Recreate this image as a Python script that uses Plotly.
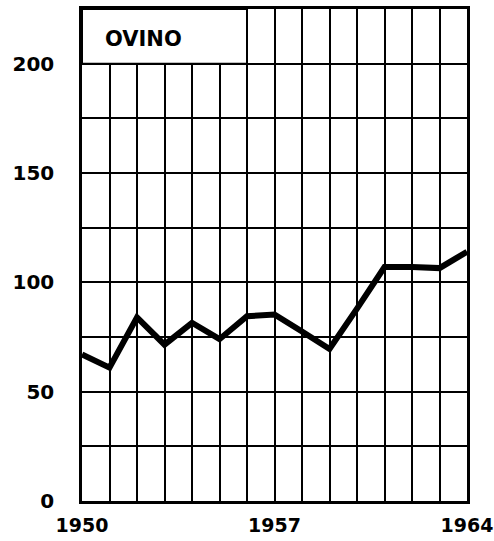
import plotly.graph_objects as go

years = list(range(1950, 1965))
ovino = [67, 61, 84, 71.5, 81.5, 74, 84.5, 85.3, 77.5, 69.5, 88, 107, 107, 106.5, 114]

x_tickvals = [1950, 1957, 1964]
x_ticktext = ["1950", "1957", "1964"]
y_tickvals = [0, 50, 100, 150, 200]
y_ticktext = ["0", "50", "100", "150", "200"]
title_text = "OVINO"

FONT = "DejaVu Sans"

fig = go.Figure()
fig.add_trace(go.Scatter(
    x=years, y=ovino, mode="lines",
    line=dict(color="black", width=6, shape="linear"),
    showlegend=False, hoverinfo="skip",
))

# title box (covers grid in the upper-left region)
fig.add_shape(type="rect", xref="x", yref="y",
              x0=1950, x1=1956, y0=200, y1=225,
              fillcolor="white", line=dict(color="black", width=2), layer="above")
fig.add_annotation(x=1950.75, y=211.5, xref="x", yref="y", text=title_text,
                   showarrow=False, xanchor="left", yanchor="middle",
                   font=dict(family=FONT, size=21, color="black", weight="bold"))

fig.update_layout(
    width=494, height=541,
    margin=dict(l=82, r=27, t=9, b=40, autoexpand=False),
    paper_bgcolor="white", plot_bgcolor="white",
    font=dict(family=FONT, size=19, color="black", weight="bold"),
    xaxis=dict(
        range=[1950, 1964], tickvals=x_tickvals, ticktext=x_ticktext,
        showgrid=True, gridcolor="black", gridwidth=1.5,
        minor=dict(tick0=1950, dtick=1, showgrid=True, gridcolor="black", gridwidth=1.5),
        showline=True, linecolor="black", linewidth=2.5, mirror=True,
        ticks="", ticklabelstandoff=5, zeroline=False, automargin=False,
        tickfont=dict(family=FONT, size=19, color="black", weight="bold"),
    ),
    yaxis=dict(
        range=[0, 225], tickvals=y_tickvals, ticktext=y_ticktext,
        showgrid=True, gridcolor="black", gridwidth=1.5,
        minor=dict(tick0=0, dtick=25, showgrid=True, gridcolor="black", gridwidth=1.5),
        showline=True, linecolor="black", linewidth=2.5, mirror=True,
        ticks="", ticklabelstandoff=21, zeroline=False, automargin=False,
        tickfont=dict(family=FONT, size=20, color="black", weight="bold"),
    ),
)

fig.write_html("out.html", config={"displayModeBar": False},
               post_script="document.body.style.margin='0';document.body.style.overflow='hidden';")
